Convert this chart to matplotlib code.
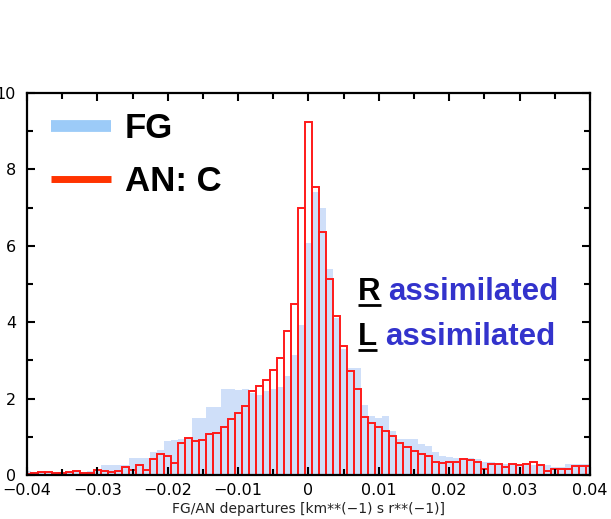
import matplotlib.pyplot as plt
import numpy as np
from matplotlib.lines import Line2D

# bin centres: -0.040 ... 0.040 step 0.001
bin_k = np.arange(-40, 41)
bin_width = 0.001

fg_values = [0.10, 0.05, 0.07, 0.06, 0.08, 0.06, 0.07, 0.08, 0.08, 0.10,
             0.15, 0.26, 0.26, 0.26, 0.27, 0.45, 0.45, 0.45, 0.60, 0.65,
             0.90, 0.92, 0.95, 0.95, 1.50, 1.50, 1.78, 1.78, 2.25, 2.25,
             2.22, 2.25, 2.15, 2.10, 2.20, 2.25, 2.30, 2.60, 3.14, 3.93,
             6.07,
             7.40, 7.00, 5.40, 4.10, 3.30, 2.80, 2.80, 1.83, 1.54, 1.49,
             1.54, 1.15, 0.95, 0.95, 0.95, 0.80, 0.75, 0.60, 0.50, 0.47,
             0.45, 0.45, 0.45, 0.42, 0.35, 0.35, 0.30, 0.28, 0.27, 0.27,
             0.27, 0.27, 0.27, 0.25, 0.20, 0.20, 0.28, 0.30, 0.30, 0.28]

an_values = [0.03, 0.05, 0.09, 0.08, 0.04, 0.06, 0.09, 0.10, 0.04, 0.05,
             0.14, 0.10, 0.08, 0.10, 0.20, 0.14, 0.26, 0.14, 0.41, 0.55,
             0.51, 0.32, 0.83, 0.96, 0.88, 0.92, 1.07, 1.10, 1.26, 1.47,
             1.62, 1.81, 2.20, 2.33, 2.49, 2.75, 3.06, 3.77, 4.48, 6.99,
             9.25,
             7.54, 6.36, 5.13, 4.16, 3.38, 2.72, 2.25, 1.52, 1.36, 1.26,
             1.15, 1.02, 0.84, 0.73, 0.63, 0.54, 0.50, 0.35, 0.31, 0.35,
             0.35, 0.42, 0.40, 0.34, 0.16, 0.30, 0.28, 0.21, 0.30, 0.27,
             0.28, 0.33, 0.26, 0.11, 0.16, 0.16, 0.16, 0.24, 0.24, 0.24]

x_ticks = [-0.04, -0.03, -0.02, -0.01, 0, 0.01, 0.02, 0.03, 0.04]
x_ticklabels = ['\u22120.04', '\u22120.03', '\u22120.02', '\u22120.01', '0',
                '0.01', '0.02', '0.03', '0.04']
y_ticks = [0, 2, 4, 6, 8, 10]
legend_labels = ['FG', 'AN: C']

centres = bin_k * bin_width

fig = plt.figure(figsize=(6.11, 5.19), dpi=100)
ax = fig.add_axes([0.0442, 0.0848, 0.9214, 0.736])

ax.bar(centres, fg_values, width=bin_width, color='#cfdff9', linewidth=0)
ax.bar(centres, an_values, width=bin_width, fill=False, edgecolor='#ff1a1a',
       linewidth=1.4)

ax.set_xlim(-0.04, 0.04)
ax.set_ylim(0, 10)
ax.set_xticks(x_ticks)
ax.set_xticklabels(x_ticklabels)
ax.set_xticks(np.arange(-0.04, 0.0401, 0.005), minor=True)
ax.set_yticks(y_ticks)
ax.set_yticks(range(0, 11), minor=True)

for s in ax.spines.values():
    s.set_linewidth(1.6)
ax.tick_params(which='both', direction='in', top=True, right=True, width=1.5,
               labelsize=11.5, color='black')
ax.tick_params(which='major', length=6)
ax.tick_params(which='minor', length=4)
ax.tick_params(axis='y', pad=8)
ax.tick_params(axis='x', pad=6)
ax.set_xlabel('FG/AN departures [km**(\u22121) s r**(\u22121)]', fontsize=10,
              labelpad=3, color='#222222')

handles = [Line2D([], [], color='#9ccbf8', lw=8.5, solid_capstyle='butt'),
           Line2D([], [], color='#ff3300', lw=5, solid_capstyle='butt')]
ax.legend(handles, legend_labels, loc='upper left', bbox_to_anchor=(0.0426, 0.95),
          frameon=False, borderpad=0, borderaxespad=0, handlelength=1.73,
          handletextpad=0.4, labelspacing=0.57,
          prop={'family': 'Liberation Sans', 'weight': 'bold', 'size': 25})

# "R assimilated" / "L assimilated" with underlined first letter
fig.canvas.draw()
renderer = fig.canvas.get_renderer()
for letter, ypos in [('R', 0.458), ('L', 0.34)]:
    t = ax.text(0.588, ypos, letter, transform=ax.transAxes, fontsize=22.5,
                fontweight='bold', family='Liberation Sans', color='black',
                va='baseline')
    bb = t.get_window_extent(renderer).transformed(ax.transAxes.inverted())
    ax.plot([bb.x0, bb.x1], [ypos - 0.014, ypos - 0.014], transform=ax.transAxes,
            color='black', lw=2, solid_capstyle='butt')
    ax.text(bb.x1 + 0.014, ypos, 'assimilated', transform=ax.transAxes,
            fontsize=22.5, fontweight='bold', family='Liberation Sans',
            color='#3333cc', va='baseline')

fig.savefig('out.png', dpi=100)
